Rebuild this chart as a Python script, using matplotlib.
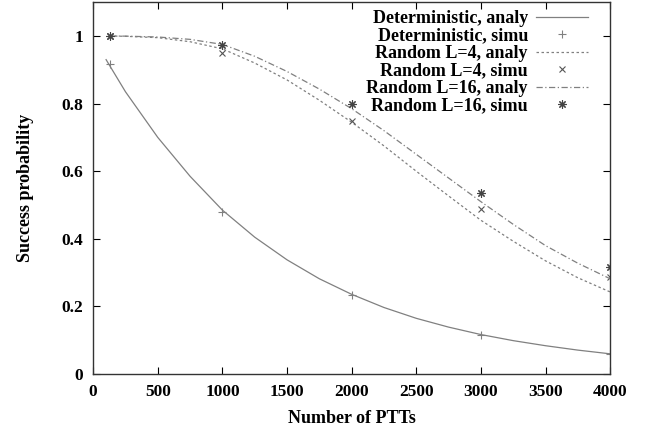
import numpy as np
import matplotlib.pyplot as plt

plt.rcParams['font.family'] = ['Liberation Serif', 'DejaVu Serif']
plt.rcParams['font.weight'] = 'bold'

# =========================================================
# Data
# =========================================================

x_det = [100, 250, 500, 750, 1000, 1250, 1500, 1750, 2000, 2250, 2500,
         2750, 3000, 3250, 3500, 3750, 4000]
det_analy = [0.93, 0.835, 0.70, 0.585, 0.485, 0.405, 0.338, 0.282, 0.236,
             0.197, 0.165, 0.139, 0.117, 0.099, 0.084, 0.071, 0.06]

x_rand = [130, 250, 500, 750, 1000, 1250, 1500, 1750, 2000, 2250, 2500,
          2750, 3000, 3250, 3500, 3750, 4000]
l4_analy = [1.0, 0.999, 0.995, 0.983, 0.962, 0.92, 0.87, 0.81, 0.745,
            0.675, 0.60, 0.527, 0.455, 0.393, 0.335, 0.285, 0.243]
l16_analy = [1.0, 0.9995, 0.997, 0.99, 0.975, 0.94, 0.895, 0.843, 0.785,
             0.72, 0.65, 0.58, 0.51, 0.443, 0.38, 0.328, 0.282]

x_sim = [130, 1000, 2000, 3000, 4000]
det_simu = [0.917, 0.478, 0.235, 0.115, 0.06]
l4_simu = [1.0, 0.95, 0.749, 0.488, 0.287]
l16_simu = [1.0, 0.973, 0.799, 0.535, 0.317]

# =========================================================
# Plot
# =========================================================

fig = plt.figure(figsize=(6.47, 4.33), dpi=100)
ax = fig.add_axes([0.144, 0.136, 0.799, 0.859])

gray = "#808080"
ax.plot(x_det, det_analy, color=gray, lw=0.9, label="Deterministic, analy")
ax.plot(x_sim, det_simu, ls="none", marker="+", ms=6, mew=0.8,
        color=gray, label="Deterministic, simu")
ax.plot(x_rand, l4_analy, color=gray, lw=0.9, ls=(0, (2, 2)),
        label="Random L=4, analy")
ax.plot(x_sim, l4_simu, ls="none", marker="x", ms=5, mew=0.8,
        color="#555555", label="Random L=4, simu")
ax.plot(x_rand, l16_analy, color=gray, lw=0.9, ls=(0, (5, 2, 1, 2)),
        label="Random L=16, analy")
ax.plot(x_sim, l16_simu, ls="none", marker=(8, 2, 0), ms=6, mew=0.8,
        color="#444444", label="Random L=16, simu")

ax.set_xlim(0, 4000)
ax.set_ylim(0, 1.1)
ax.set_xticks(np.arange(0, 4001, 500))
ax.set_yticks([0, 0.2, 0.4, 0.6, 0.8, 1.0])
ax.set_yticklabels(["0", "0.2", "0.4", "0.6", "0.8", "1"])
ax.tick_params(direction="in", top=True, right=True, length=5,
               labelsize=12.5, pad=7)
for lab in ax.get_xticklabels() + ax.get_yticklabels():
    lab.set_fontweight("bold")
for s in ax.spines.values():
    s.set_linewidth(1.0)
    s.set_color("#333333")

ax.set_xlabel("Number of PTTs", fontsize=13, fontweight="bold", labelpad=7)
ax.set_ylabel("Success probability", fontsize=13, fontweight="bold",
              labelpad=20)

leg = ax.legend(loc="upper right", bbox_to_anchor=(0.958, 0.979),
                frameon=False, markerfirst=False,
                fontsize=13, handlelength=2.9, labelspacing=0.03,
                borderaxespad=0.0, borderpad=0.0, handletextpad=0.45)
for t in leg.get_texts():
    t.set_ha("right")
    t.set_fontweight("bold")
leg._legend_box.align = "right"

plt.savefig("out.png", dpi=100)
